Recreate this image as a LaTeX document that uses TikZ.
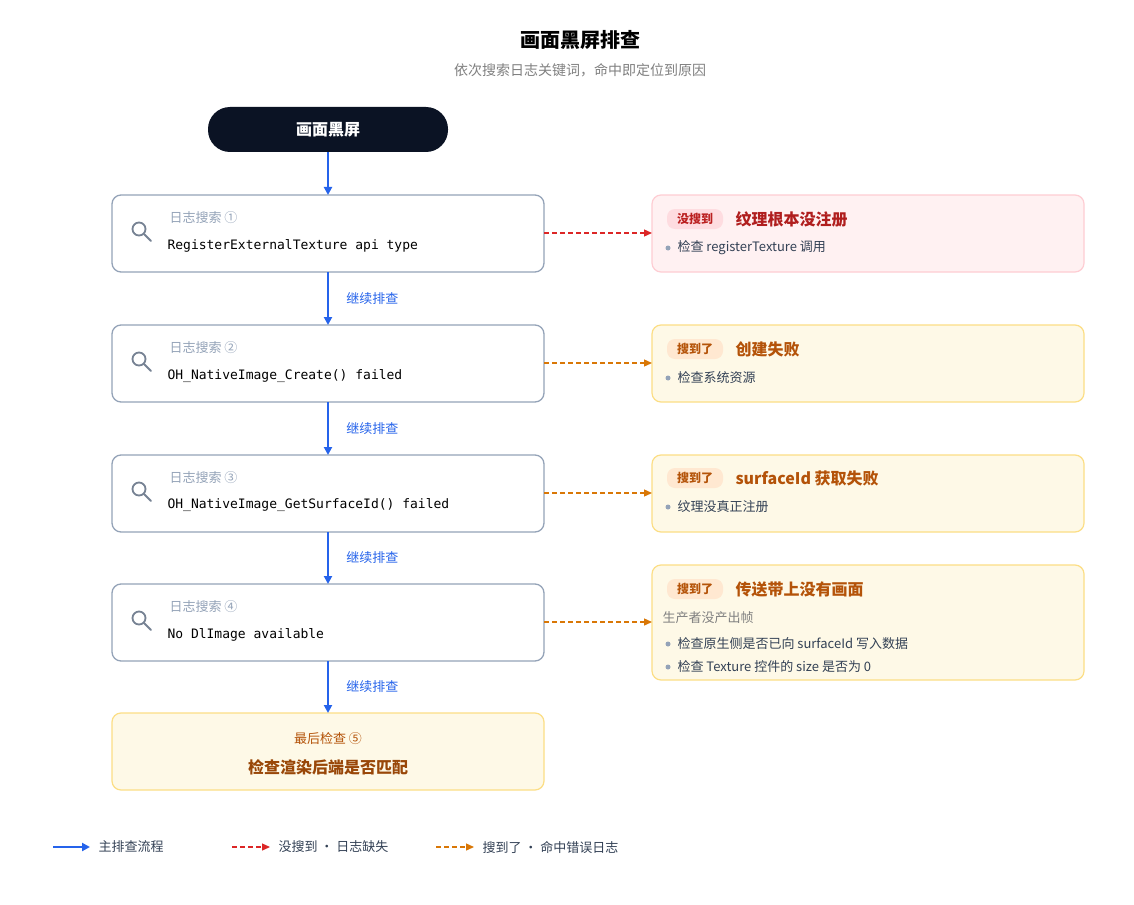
\documentclass[tikz,border=0pt]{standalone}
\usepackage{fontspec}
\setmainfont{Noto Sans CJK SC}
\setmonofont{DejaVu Sans Mono}
\usetikzlibrary{arrows.meta}
\definecolor{blu}{HTML}{2563EB}
\definecolor{red1}{HTML}{DC2626}
\definecolor{org}{HTML}{D97706}
\definecolor{gbord}{HTML}{94A3B8}
\definecolor{dark}{HTML}{0B1324}
\definecolor{ybg}{HTML}{FEF9E7}
\definecolor{ybd}{HTML}{FCDE85}
\definecolor{rbg}{HTML}{FFF1F2}
\definecolor{rbd}{HTML}{FECDD3}
\definecolor{brn}{HTML}{B45309}
\definecolor{txt}{HTML}{334155}
\begin{document}
\begin{tikzpicture}[x=1pt,y=-1pt,
  stepbox/.style={draw=gbord,line width=1.3pt,fill=white,rounded corners=9pt},
  rbox/.style={draw=rbd,line width=1.2pt,fill=rbg,rounded corners=9pt},
  ybox/.style={draw=ybd,line width=1.2pt,fill=ybg,rounded corners=9pt},
  main/.style={draw=blu,line width=2pt,-{Triangle[length=8pt,width=8pt]}},
  miss/.style={draw=red1,line width=1.3pt,dash pattern=on 5pt off 3pt,-{Triangle[length=8pt,width=7pt]}},
  hit/.style={draw=org,line width=1.3pt,dash pattern=on 5pt off 3pt,-{Triangle[length=8pt,width=7pt]}},
  lbl/.style={font=\fontsize{13}{15}\selectfont,text=gbord,anchor=west},
  code/.style={font=\ttfamily\fontsize{13}{15}\selectfont,text=black,anchor=west},
  cont/.style={font=\fontsize{13}{15}\selectfont,text=blu,anchor=west},
  tag/.style={font=\bfseries\fontsize{12}{14}\selectfont,rounded corners=8pt,minimum height=20pt,inner xsep=10pt},
  head/.style={font=\bfseries\fontsize{16}{18}\selectfont,anchor=west},
  item/.style={font=\fontsize{13}{15}\selectfont,text=txt,anchor=west},
  dot/.style={circle,fill=gbord,inner sep=0pt,minimum size=5pt}]
\useasboundingbox (0,0) rectangle (1134,904);
\fill[white] (0,0) rectangle (1134,904);
\node[font=\bfseries\fontsize{20}{24}\selectfont] (title) at (580,40) {画面黑屏排查};
\node[font=\fontsize{14}{16}\selectfont,text=gray] (sub) at (580,70) {依次搜索日志关键词，命中即定位到原因};
\node[fill=dark,rounded corners=22pt,minimum width=240pt,minimum height=45pt,text=white,font=\bfseries\fontsize{16}{18}\selectfont] (start) at (328,129.5) {画面黑屏};
% step boxes
\foreach \n/\y in {1/195,2/325,3/455,4/584}{
  \draw[stepbox] (112,\y) rectangle (544,\y+77);
  \coordinate (s\n t) at (328,\y);
  \coordinate (s\n b) at (328,\y+77);
  \coordinate (s\n r) at (544,\y+38);
  \draw[gbord!80!black,line width=1.8pt] (139,\y+34) circle (6.5pt);
  \draw[gbord!80!black,line width=2pt,line cap=round] (144,\y+39) -- (151,\y+46);
}
\node[lbl] (l1) at (166,218) {日志搜索 ①};
\node[code] (c1) at (164,246) {RegisterExternalTexture api type};
\node[lbl] (l2) at (166,348) {日志搜索 ②};
\node[code] (c2) at (164,376) {OH\_NativeImage\_Create() failed};
\node[lbl] (l3) at (166,478) {日志搜索 ③};
\node[code] (c3) at (164,505) {OH\_NativeImage\_GetSurfaceId() failed};
\node[lbl] (l4) at (166,607) {日志搜索 ④};
\node[code] (c4) at (164,635) {No DlImage available};
\draw[ybox] (112,713) rectangle (544,790);
\coordinate (s5t) at (328,713);
\node[font=\fontsize{13}{15}\selectfont,text=brn] (l5) at (328,739) {最后检查 ⑤};
\node[font=\bfseries\fontsize{16}{18}\selectfont,text=brn!85!black] (c5) at (328,767) {检查渲染后端是否匹配};
% main arrows
\draw[main] (start.south) -- (s1t);
\draw[main] (s1b) -- (s2t) node[cont,midway,xshift=14pt] {继续排查};
\draw[main] (s2b) -- (s3t) node[cont,midway,xshift=14pt] {继续排查};
\draw[main] (s3b) -- (s4t) node[cont,midway,xshift=14pt] {继续排查};
\draw[main] (s4b) -- (s5t) node[cont,midway,xshift=14pt] {继续排查};
% right boxes
\draw[rbox] (652,195) rectangle (1084,272); \coordinate (r1) at (652,233);
\draw[ybox] (652,325) rectangle (1084,402); \coordinate (r2) at (652,363);
\draw[ybox] (652,455) rectangle (1084,532); \coordinate (r3) at (652,493);
\draw[ybox] (652,565) rectangle (1084,680); \coordinate (r4) at (652,622);
\node[tag,fill=rbd!70,text=red1!85!black] (t1) at (695,219) {没搜到};
\node[head,text=red1!80!black] (h1) at (732,219) {纹理根本没注册};
\node[dot] (d1) at (668,248) {}; \node[item] (i1) at (674,248) {检查 registerTexture 调用};
\node[tag,fill=orange!18,text=brn] (t2) at (695,349) {搜到了};
\node[head,text=brn] (h2) at (732,349) {创建失败};
\node[dot] (d2) at (668,378) {}; \node[item] (i2) at (674,378) {检查系统资源};
\node[tag,fill=orange!18,text=brn] (t3) at (695,478) {搜到了};
\node[head,text=brn] (h3) at (732,478) {surfaceId 获取失败};
\node[dot] (d3) at (668,507) {}; \node[item] (i3) at (674,507) {纹理没真正注册};
\node[tag,fill=orange!18,text=brn] (t4) at (695,589) {搜到了};
\node[head,text=brn] (h4) at (732,589) {传送带上没有画面};
\node[font=\fontsize{13}{15}\selectfont,text=gray,anchor=west] (p4) at (659,618) {生产者没产出帧};
\node[dot] (d4) at (668,644) {}; \node[item] (i4) at (674,644) {检查原生侧是否已向 surfaceId 写入数据};
\node[dot] (d5) at (668,667) {}; \node[item] (i5) at (674,667) {检查 Texture 控件的 size 是否为 0};
% dashed connectors
\draw[miss] (s1r) -- (r1);
\draw[hit] (s2r) -- (r2);
\draw[hit] (s3r) -- (r3);
\draw[hit] (s4r) -- (r4);
% legend
\coordinate (a1) at (53,847); \coordinate (b1) at (90,847);
\coordinate (a2) at (232,847); \coordinate (b2) at (270,847);
\coordinate (a3) at (436,847); \coordinate (b3) at (474,847);
\draw[main] (a1) -- (b1);
\draw[miss] (a2) -- (b2);
\draw[hit] (a3) -- (b3);
\node[item] (g1) at (95,847) {主排查流程};
\node[item] (g2) at (275,847) {没搜到 · 日志缺失};
\node[item] (g3) at (479,847) {搜到了 · 命中错误日志};
\end{tikzpicture}
\end{document}
